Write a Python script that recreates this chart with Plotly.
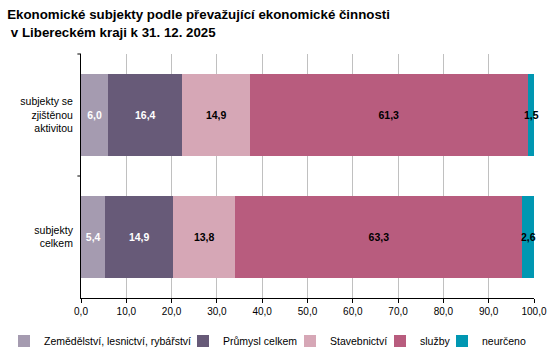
import plotly.graph_objects as go

categories = ["subjekty<br>celkem", "subjekty se<br>zjištěnou<br>aktivitou"]
series_names = ["Zemědělství, lesnictví, rybářství", "Průmysl celkem", "Stavebnictví", "služby", "neurčeno"]
values = {
    "Zemědělství, lesnictví, rybářství": [5.4, 6.0],
    "Průmysl celkem": [14.9, 16.4],
    "Stavebnictví": [13.8, 14.9],
    "služby": [63.3, 61.3],
    "neurčeno": [2.6, 1.5],
}
colors = ["#A59BB0", "#675A78", "#D6A7B6", "#B85C7E", "#0097B2"]
text_colors = ["white", "white", "black", "black", "black"]
x_ticks = [0, 10, 20, 30, 40, 50, 60, 70, 80, 90, 100]

# legend text start positions in pixels (layout only)
legend_text_px = [44, 223, 330, 420, 482]

W, H = 552, 353
ML, MR, MT, MB = 81, 18, 54, 55
PW = W - ML - MR
PH = H - MT - MB

fig = go.Figure()
legend_ids = ["legend", "legend2", "legend3", "legend4", "legend5"]
for i, (name, col, tc) in enumerate(zip(series_names, colors, text_colors)):
    vals = values[name]
    narrow = name == "neurčeno"
    fig.add_trace(go.Bar(
        y=categories, x=vals, name=name, orientation="h",
        marker=dict(color=col, line=dict(width=0)),
        text=None if narrow else [f"{v:.1f}".replace(".", ",") for v in vals],
        textposition="inside", insidetextanchor="middle", textangle=0,
        constraintext="none",
        textfont=dict(family="Liberation Sans, Arial", size=10.5, color=tc, weight="bold"),
        hoverinfo="skip", legend=legend_ids[i],
    ))

# labels for the narrow last segment, centred on the segment
for j, cat in enumerate(categories):
    base = sum(values[n][j] for n in series_names[:-1])
    v = values["neurčeno"][j]
    fig.add_annotation(
        x=base + v / 2, y=cat, xref="x", yref="y",
        text="<b>" + f"{v:.1f}".replace(".", ",") + "</b>",
        showarrow=False, font=dict(family="Liberation Sans, Arial", size=10.5, color="black"),
    )

layout_legends = {}
for i, lid in enumerate(legend_ids):
    layout_legends[lid] = dict(
        orientation="h", x=(legend_text_px[i] - 40 - ML) / PW, xanchor="left",
        y=(MT + PH - 341) / PH, yanchor="middle",
        font=dict(size=10.5, family="Liberation Sans, Arial"), itemwidth=30,
        bgcolor="rgba(0,0,0,0)",
    )

fig.update_layout(
    barmode="stack", bargap=0.33,
    width=W, height=H,
    margin=dict(l=ML, r=MR, t=MT, b=MB, autoexpand=False),
    paper_bgcolor="white", plot_bgcolor="white",
    separators=", ",
    font=dict(family="Liberation Sans, Arial", size=10, color="black"),
    title=dict(
        text="<b>Ekonomické subjekty podle převažující ekonomické činnosti<br> v Libereckém kraji k 31. 12. 2025</b>",
        x=0.013, xanchor="left", y=0.945, yanchor="top",
        font=dict(size=13.3, color="black"),
    ),
    xaxis=dict(
        range=[0, 100], tickvals=x_ticks, tickformat=".1f",
        showgrid=True, gridcolor="#C0C0C0", gridwidth=1,
        showline=True, linecolor="black", linewidth=1,
        ticks="outside", ticklen=4, tickcolor="black",
        tickfont=dict(size=10), zeroline=False, fixedrange=True,
        automargin=False,
    ),
    yaxis=dict(
        showline=True, linecolor="black", linewidth=1,
        ticks="", tickfont=dict(size=10.5), zeroline=False,
        automargin=False, ticklabelstandoff=5,
    ),
    showlegend=True,
    **layout_legends,
)
fig.add_shape(type="line", xref="paper", yref="paper", x0=-0.008, x1=0, y0=0.5, y1=0.5,
              line=dict(color="black", width=1))
fig.add_shape(type="line", xref="paper", yref="paper", x0=-0.008, x1=0, y0=1, y1=1,
              line=dict(color="black", width=1))

fig.write_html("out.html")
